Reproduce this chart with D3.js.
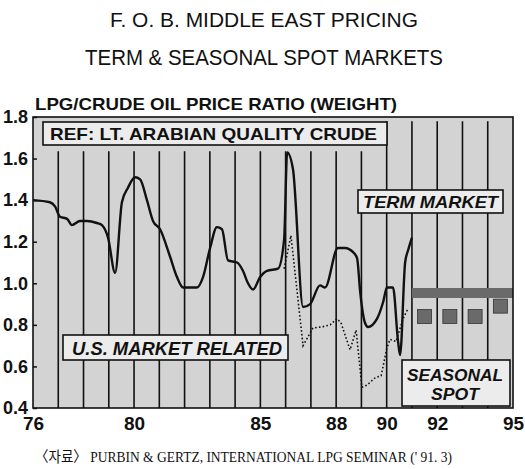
<!DOCTYPE html>
<html>
<head>
<meta charset="utf-8">
<script src="https://cdn.jsdelivr.net/npm/d3@7"></script>
<style>
  html, body { margin: 0; padding: 0; background: #fff; }
  svg { display: block; }
</style>
</head>
<body>
<svg id="chart" width="525" height="469"></svg>
<script>
// ---------------- DATA ----------------
const termYears = [76.0, 76.67, 76.87, 77.07, 77.35, 77.54, 77.86, 78.14, 78.53, 78.73, 78.97, 79.25,
  79.52, 79.76, 80.04, 80.24, 80.51, 80.75, 81.03, 81.42, 81.70, 81.94, 82.22, 82.49, 82.73, 83.01,
  83.28, 83.48, 83.72, 84.08, 84.31, 84.51, 84.71, 84.99, 85.26, 85.70, 85.94, 86.06, 86.29, 86.69,
  86.97, 87.36, 87.56, 88.07, 88.35, 88.67, 88.83, 88.95, 89.14, 89.26, 89.62, 89.86, 90.01, 90.25,
  90.45, 90.53, 90.73, 90.85, 91.0];
const termValues = [1.40, 1.39, 1.37, 1.32, 1.31, 1.28, 1.30, 1.30, 1.29, 1.28, 1.22, 1.05,
  1.39, 1.46, 1.51, 1.50, 1.40, 1.30, 1.26, 1.13, 1.03, 0.98, 0.98, 0.98, 1.03, 1.17,
  1.27, 1.26, 1.11, 1.10, 1.06, 1.00, 0.97, 1.03, 1.06, 1.07, 1.21, 1.63, 1.55, 0.886,
  0.90, 0.99, 0.98, 1.17, 1.17, 1.15, 1.12, 0.96, 0.81, 0.79, 0.83, 0.91, 0.98, 0.98,
  0.72, 0.655, 1.10, 1.16, 1.22];

const usYears = [85.94, 86.06, 86.21, 86.69, 87.08, 87.44, 87.76, 88.03, 88.19, 88.55, 88.79,
  89.02, 89.22, 89.54, 89.78, 90.01, 90.13, 90.37, 90.65, 90.85];
const usValues = [1.07, 1.14, 1.23, 0.70, 0.785, 0.79, 0.80, 0.83, 0.81, 0.68, 0.775,
  0.50, 0.51, 0.545, 0.555, 0.69, 0.73, 0.72, 0.83, 0.88];

const termBandYears = [91, 95];
const termBandValues = [0.953, 0.953];

const seasonalYears = [91.5, 92.5, 93.5, 94.5];
const seasonalValues = [0.84, 0.84, 0.84, 0.89];

const yTicks = [0.4, 0.6, 0.8, 1.0, 1.2, 1.4, 1.6, 1.8];
const xTicks = [76, 80, 85, 88, 90, 92, 95];
const gridYears = d3.range(77, 95);

const titleLines = ["F. O. B.  MIDDLE EAST PRICING", "TERM & SEASONAL SPOT MARKETS"];
const yTitle = "LPG/CRUDE OIL PRICE RATIO (WEIGHT)";
const refLabel = "REF:  LT. ARABIAN QUALITY CRUDE";
const termLabel = "TERM MARKET";
const usLabel = "U.S. MARKET RELATED";
const seasonalLabel = ["SEASONAL", "SPOT"];
const sourceText = "〈자료〉 PURBIN & GERTZ,  INTERNATIONAL LPG SEMINAR (' 91. 3)";

// ---------------- LAYOUT ----------------
const svg = d3.select("#chart");
const L = 33, R = 513, T = 117, B = 408;
const x = d3.scaleLinear().domain([76, 95]).range([L, R]);
const y = d3.scaleLinear().domain([0.4, 1.8]).range([B, T]);

const BG = "#d3d3d3", BOXFILL = "#ececec", DARK = "#6a6a6a";

// plot background
svg.append("rect").attr("x", L).attr("y", T).attr("width", R - L).attr("height", B - T)
  .attr("fill", BG);

// grid lines
svg.append("g").selectAll("line").data(gridYears).join("line")
  .attr("x1", d => x(d)).attr("x2", d => x(d))
  .attr("y1", d => d >= 90 ? y(1.78) : y(1.635))
  .attr("y2", B)
  .attr("stroke", "#111").attr("stroke-width", 1.6);

// term market line
const line = d3.line().x(d => x(d[0])).y(d => y(d[1])).curve(d3.curveMonotoneX);
svg.append("path").datum(d3.zip(termYears, termValues))
  .attr("d", line).attr("fill", "none").attr("stroke", "#111")
  .attr("stroke-width", 2.4).attr("stroke-linejoin", "round");

// US market related (dotted)
const lineLin = d3.line().x(d => x(d[0])).y(d => y(d[1]));
svg.append("path").datum(d3.zip(usYears, usValues))
  .attr("d", lineLin).attr("fill", "none").attr("stroke", "#111")
  .attr("stroke-width", 1.6).attr("stroke-dasharray", "1.6,2.2");

// term market band (91-95)
svg.append("path").datum(d3.zip(termBandYears, termBandValues))
  .attr("d", lineLin).attr("fill", "none").attr("stroke", DARK).attr("stroke-width", 10);

// seasonal spot squares
const sq = 14;
svg.append("g").selectAll("rect").data(d3.zip(seasonalYears, seasonalValues)).join("rect")
  .attr("x", d => x(d[0]) - sq / 2).attr("y", d => y(d[1]) - sq / 2)
  .attr("width", sq).attr("height", sq)
  .attr("fill", DARK).attr("stroke", "#333").attr("stroke-width", 0.8);

// label boxes
function labelBox(x0, y0, x1, y1) {
  svg.append("rect").attr("x", x0).attr("y", y0).attr("width", x1 - x0).attr("height", y1 - y0)
    .attr("fill", BOXFILL).attr("stroke", "#111").attr("stroke-width", 1.6);
}
function txt(str, xx, yy, opts) {
  const t = svg.append("text").attr("x", xx).attr("y", yy).text(str)
    .attr("font-family", opts.family || "'Liberation Sans', Arial, sans-serif")
    .attr("font-size", opts.size).attr("font-weight", opts.weight || "normal")
    .attr("font-style", opts.style || "normal").attr("fill", "#111")
    .attr("text-anchor", opts.anchor || "start");
  if (opts.len) t.attr("textLength", opts.len).attr("lengthAdjust", "spacingAndGlyphs");
  return t;
}

labelBox(43, 122, 387, 145);
txt(refLabel, 50, 140, { size: 17, weight: "bold", len: 327 });

labelBox(358, 190, 503, 213);
txt(termLabel, 363, 208, { size: 17, weight: "bold", style: "italic", len: 135 });

labelBox(63, 335, 288, 360);
txt(usLabel, 72, 355, { size: 18, weight: "bold", style: "italic", len: 210 });

labelBox(402, 360, 510, 406);
txt(seasonalLabel[0], 407, 381, { size: 16, weight: "bold", style: "italic", len: 96 });
txt(seasonalLabel[1], 431, 400, { size: 16, weight: "bold", style: "italic", len: 48 });

// plot border
svg.append("rect").attr("x", L).attr("y", T).attr("width", R - L).attr("height", B - T)
  .attr("fill", "none").attr("stroke", "#111").attr("stroke-width", 1.6);

// axes
const yAxis = d3.axisLeft(y).tickValues(yTicks).tickFormat(d3.format(".1f"))
  .tickSizeInner(-4).tickSizeOuter(0).tickPadding(5);
const gy = svg.append("g").attr("transform", `translate(${L},0)`).call(yAxis);
gy.select(".domain").remove();
gy.selectAll("line").attr("stroke", "#111").attr("stroke-width", 1.5);
gy.selectAll("text").attr("font-family", "'Liberation Sans', Arial, sans-serif")
  .attr("font-size", 18).attr("font-weight", "bold").attr("fill", "#111");

const xAxis = d3.axisBottom(x).tickValues(xTicks).tickFormat(d3.format("d"))
  .tickSize(0).tickPadding(9);
const gx = svg.append("g").attr("transform", `translate(0,${B})`).call(xAxis);
gx.select(".domain").remove();
gx.selectAll("text").attr("font-family", "'Liberation Sans', Arial, sans-serif")
  .attr("font-size", 19).attr("font-weight", "bold").attr("fill", "#111");

// titles
txt(titleLines[0], 110, 27, { size: 21, len: 308 });
txt(titleLines[1], 85, 65, { size: 22, len: 358 });
txt(yTitle, 35, 110, { size: 17, weight: "bold", len: 362 });

// source
txt(sourceText, 35, 462, { size: 15, family: "'Liberation Serif', 'Noto Sans CJK KR', serif", len: 417 });
</script>
</body>
</html>
